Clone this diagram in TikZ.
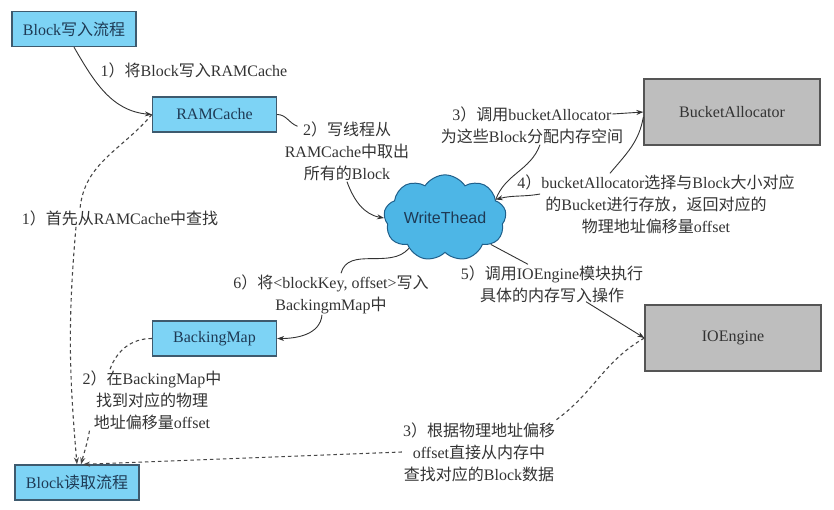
\documentclass[tikz,border=0pt]{standalone}
\usepackage{fontspec}
\setmainfont{Liberation Serif}
\newfontfamily\cjkfont{Noto Sans CJK SC}
\newfontfamily\cloudfont{Liberation Sans}
\newcommand{\zw}[1]{{\cjkfont #1}}
\usepackage{tikz}
\usetikzlibrary{shapes.symbols,arrows.meta}
\definecolor{boxblue}{HTML}{7DD3F5}
\definecolor{boxline}{HTML}{3E5A6E}
\definecolor{cloudblue}{HTML}{4DB6E6}
\definecolor{cloudline}{HTML}{1F5F8A}
\definecolor{boxgray}{HTML}{BEBEBE}
\definecolor{grayline}{HTML}{555555}
\definecolor{txt}{HTML}{333333}
\definecolor{boxtxt}{HTML}{1E3A55}
\tikzstyle{bluebox} = [draw=boxline, line width=1.3pt, rectangle, fill=boxblue, text=boxtxt, minimum width=124pt, minimum height=35pt, inner sep=0pt]
\tikzstyle{graybox} = [draw=grayline, line width=1.3pt, rectangle, fill=boxgray, text=txt, minimum width=176pt, minimum height=66pt, inner sep=0pt]
\tikzstyle{thread} = [cloud, cloud puffs=9, cloud puff arc=115, aspect=1.7, draw=cloudline, line width=1pt, fill=cloudblue, text=boxtxt, inner sep=0pt, minimum width=106pt, minimum height=66pt, font=\cloudfont\fontsize{16}{20}\selectfont]
\tikzstyle{lbl} = [text=txt, align=center, inner sep=1pt]
\tikzstyle{flow} = [draw=txt, line width=0.9pt]
\tikzstyle{dflow} = [draw=txt!90, line width=1.1pt, dash pattern=on 3.5pt off 3pt]
\tikzstyle{arr} = [-{Stealth[length=7pt,width=5pt]}]

\begin{document}
\begin{tikzpicture}[x=1pt, y=-1pt, font=\fontsize{16}{22}\selectfont]
\useasboundingbox (0,0) rectangle (834,509);

% boxes
\node [bluebox] (wr) at (74,29) {Block\zw{写入流程}};
\node [bluebox] (ram) at (214.5,114.5) {RAMCache};
\node [graybox] (bucket) at (732,112) {BucketAllocator};
\node [graybox] (ioe) at (733,338) {IOEngine};
\node [bluebox] (bmap) at (214.5,338.5) {BackingMap};
\node [bluebox] (rd) at (77,482.5) {Block\zw{读取流程}};
\node [thread] (wt) at (445,218) {WriteThead};

% labels
\node [lbl] (l1) at (194,70) {1\zw{）将}Block\zw{写入}RAMCache};
\node [lbl] (l2) at (347,151) {2\zw{）写线程从}\\RAMCache\zw{中取出}\\\zw{所有的}Block};
\node [lbl] (l1r) at (120,218) {1\zw{）首先从}RAMCache\zw{中查找}};
\node [lbl] (l3) at (532,125) {3\zw{）调用}bucketAllocator\\\zw{为这些}Block\zw{分配内存空间}};
\node [lbl] (l4) at (656,204) {4\zw{）}bucketAllocator\zw{选择与}Block\zw{大小对应}\\\zw{的}Bucket\zw{进行存放，返回对应的}\\\zw{物理地址偏移量}offset};
\node [lbl] (l5) at (552,284) {5\zw{）调用}IOEngine\zw{模块执行}\\\zw{具体的内存写入操作}};
\node [lbl] (l6) at (331,294) {6\zw{）将}\textless blockKey, offset\textgreater\zw{写入}\\BackingmMap\zw{中}};
\node [lbl] (l2r) at (152,400) {2\zw{）在}BackingMap\zw{中}\\\zw{找到对应的物理}\\\zw{地址偏移量}offset};
\node [lbl] (l3r) at (479,452) {3\zw{）根据物理地址偏移}\\offset\zw{直接从内存中}\\\zw{查找对应的}Block\zw{数据}};

% write path
\draw [flow,arr] (wr.south) to[out=-60,in=175] (ram.west);
\draw [flow] (ram.east) to[out=0,in=160] ([xshift=14pt,yshift=-6pt]l2.north west);
\draw [flow,arr] (l2.south) to[out=-70,in=170] (wt.west);
\draw [flow] (wt.20) to[out=70,in=-110] ([xshift=8pt]l3.south);
\draw [flow,arr] ([xshift=-12pt,yshift=11pt]l3.east) -- (bucket.west);
\draw [flow] ([yshift=-5pt]bucket.west) to[out=-100,in=50] ([xshift=-46pt]l4.north);
\draw [flow,arr] ([xshift=24pt,yshift=10pt]l4.west) to[out=190,in=15] (wt.20);
\draw [flow] (wt.-30) -- ([xshift=-24pt]l5.north);
\draw [flow,arr] ([xshift=34pt,yshift=2pt]l5.south) -- (ioe.west);
\draw [flow] (wt.-140) to[out=-130,in=75] ([xshift=10pt]l6.north);
\draw [flow,arr] ([xshift=-9pt]l6.south) to[out=-95,in=0] (bmap.east);

% read path
\draw [dflow] (ram.west) to[out=-130,in=85] ([xshift=-40pt]l1r.north);
\draw [dflow,arr] ([xshift=-44pt]l1r.south) to[out=-95,in=95] (rd.north);
\draw [dflow] (bmap.west) to[out=180,in=70] ([xshift=-42pt]l2r.north);
\draw [dflow,arr] ([xshift=8pt]l2r.south west) to[out=-100,in=75] ([xshift=4pt]rd.north);
\draw [dflow] (ioe.west) to[out=-150,in=35] ([xshift=-2pt]l3r.north east);
\draw [dflow,arr] (l3r.west) -- ([xshift=6pt]rd.north);
\end{tikzpicture}
\end{document}
